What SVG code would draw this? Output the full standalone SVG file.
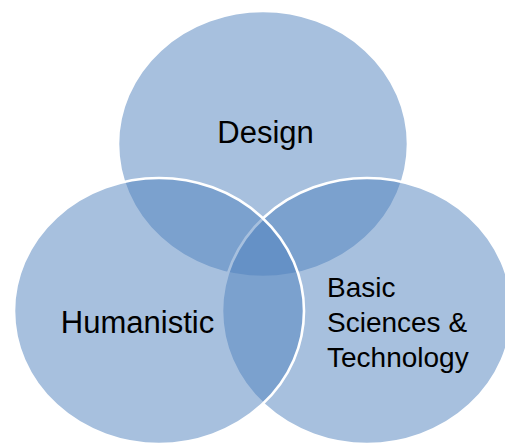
<svg xmlns="http://www.w3.org/2000/svg" width="505" height="443" viewBox="0 0 505 443">
  <style>
    .set { fill: #4F81BD; fill-opacity: 0.5; stroke: #ffffff; stroke-width: 2.6; }
    .label { font-family: "Liberation Sans", Arial, sans-serif; fill: #000000; }
  </style>
  <rect width="505" height="443" fill="#ffffff"/>

  <!-- Three overlapping sets; drawn top, right, then left -->
  <g id="design">
    <ellipse class="set" cx="263" cy="144" rx="145" ry="133"/>
  </g>
  <g id="basic-sciences-technology">
    <ellipse class="set" cx="367" cy="311" rx="145" ry="133"/>
  </g>
  <g id="humanistic">
    <ellipse class="set" cx="159" cy="311" rx="145" ry="133"/>
  </g>

  <!-- Set labels -->
  <g id="labels">
    <text class="label" x="265.5" y="143" font-size="31" text-anchor="middle">Design</text>
    <text class="label" x="137.5" y="333" font-size="31" text-anchor="middle">Humanistic</text>
    <text class="label" x="327" y="297" font-size="28">
      <tspan x="327" y="297">Basic</tspan>
      <tspan x="327" y="332">Sciences &amp;</tspan>
      <tspan x="327" y="367">Technology</tspan>
    </text>
  </g>
</svg>
